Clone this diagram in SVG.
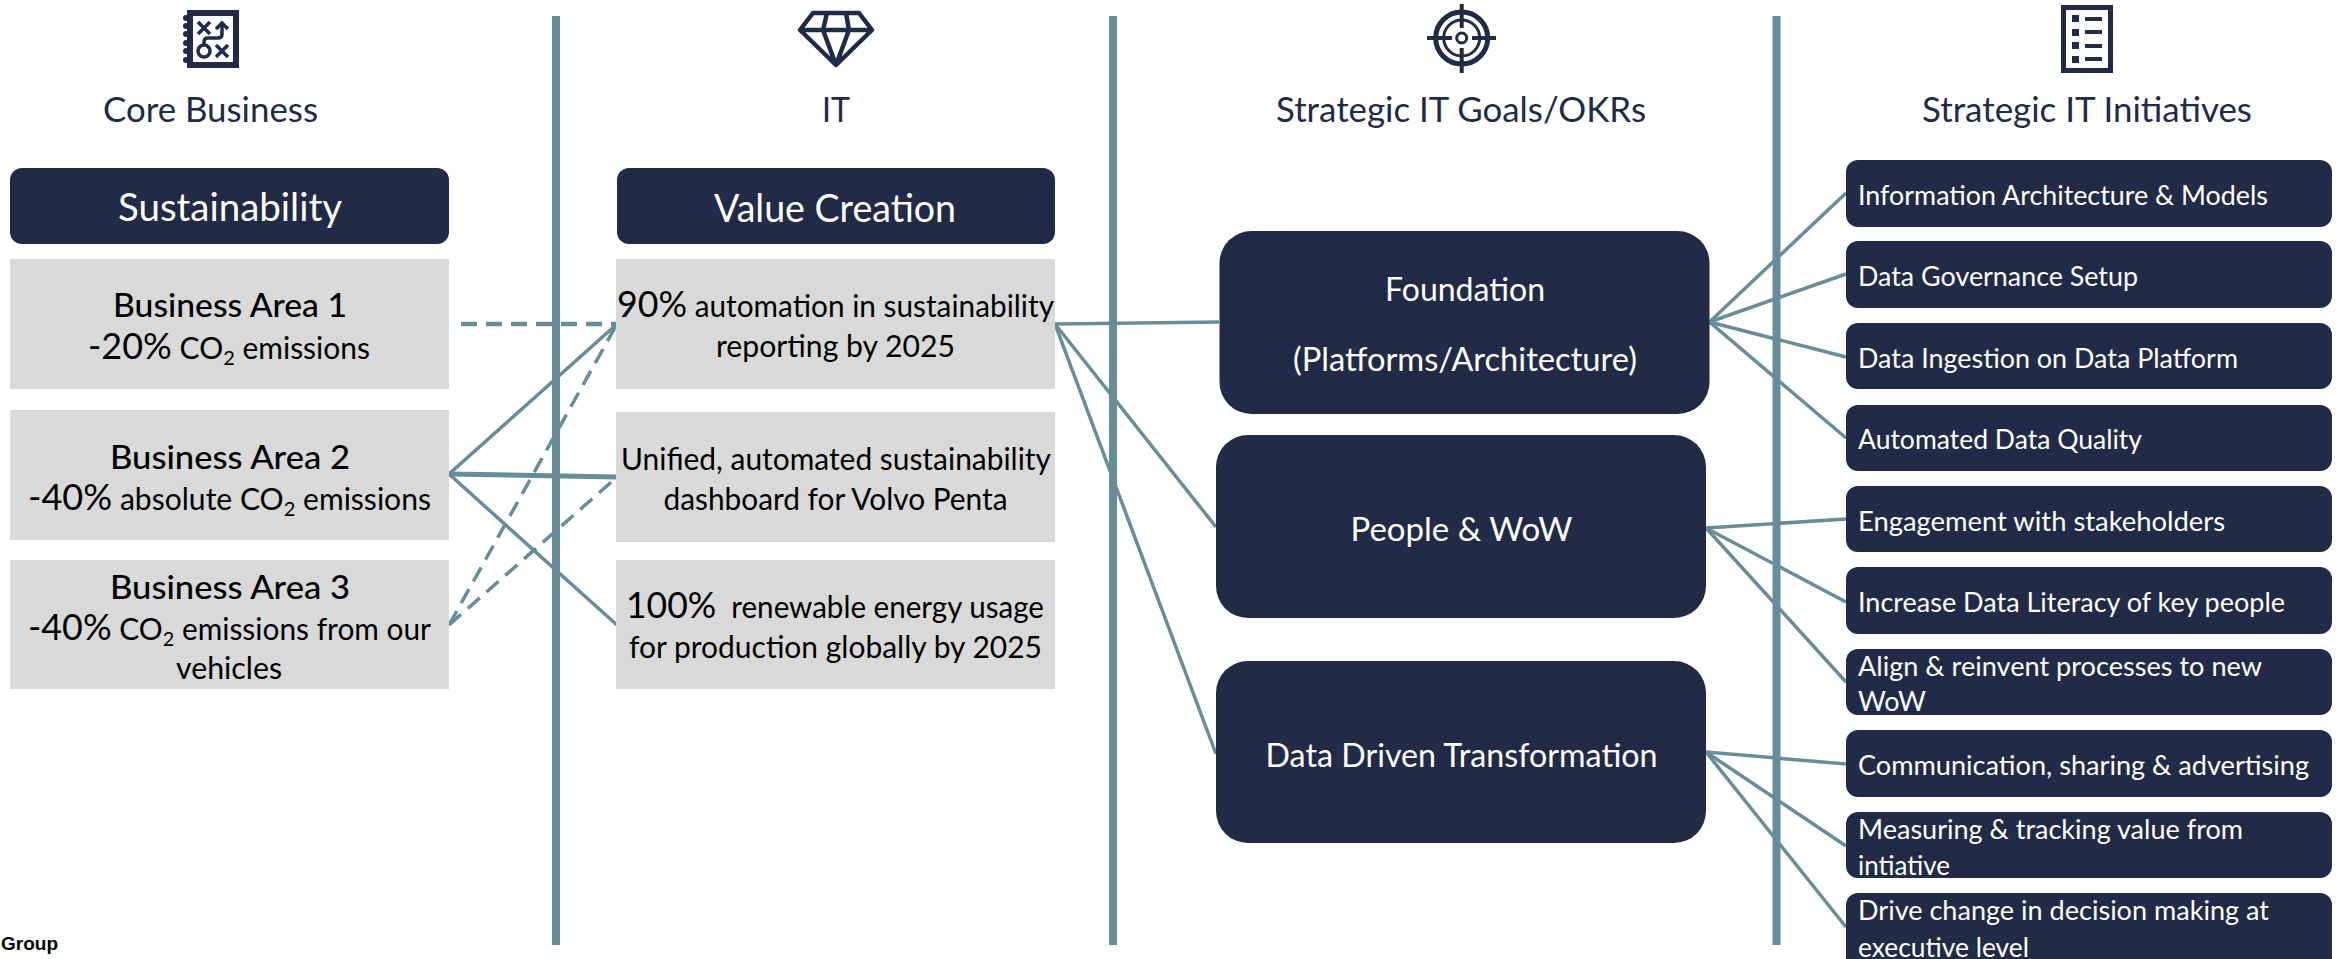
<svg xmlns="http://www.w3.org/2000/svg" width="2341" height="959" viewBox="0 0 2341 959">
<style>
text{font-family:"Lato","Open Sans",sans-serif;font-weight:400}
.h{font-size:34px;fill:#212b47;text-anchor:middle}
.t{font-size:38px;fill:#fff;text-anchor:middle}
.g{font-size:33px;fill:#000;text-anchor:middle;font-weight:500}
.b{font-size:30px;fill:#000;text-anchor:middle}
.c{font-size:32px;fill:#fff;text-anchor:middle}
.i{font-size:27px;fill:#fff}
.big{font-size:36px}
.sub{font-size:20px}
.d{fill:#212b47}
.e{fill:#d9d9d9}
.l{stroke:#678d99;fill:none;stroke-width:3.5}
.s{stroke:#678d99;fill:none;stroke-width:3.5;stroke-dasharray:16 9}
.v{stroke:#678d99;stroke-width:8}
.ic{fill:none;stroke:#212b47}
</style>
<g id="dividers"><line class="v" x1="556" y1="16" x2="556" y2="945"/><line class="v" x1="1113" y1="16" x2="1113" y2="945"/><line class="v" x1="1776.5" y1="16" x2="1776.5" y2="945"/></g>
<g id="connectors">
<path class="s" style="stroke-width:4.5" d="M461 324H617"/>
<path class="l" d="M449 474L617 324"/><path class="l" style="stroke-width:5" d="M449 474L617 477"/><path class="l" d="M449 474L617 625"/>
<path class="s" d="M449 625L617 324"/><path class="s" d="M449 625L617 477"/>
<path class="l" d="M1055 324L1219 322"/><path class="l" d="M1055 324L1216 527"/><path class="l" d="M1055 324L1216 754"/>
<path class="l" d="M1709.5 322L1846 193"/><path class="l" d="M1709.5 322L1846 274"/><path class="l" d="M1709.5 322L1846 357"/><path class="l" d="M1709.5 322L1846 438"/>
<path class="l" d="M1706 528L1846 519"/><path class="l" d="M1706 528L1846 602"/><path class="l" d="M1706 528L1846 682"/>
<path class="l" d="M1706 752L1846 764"/><path class="l" d="M1706 752L1846 846"/><path class="l" d="M1706 752L1846 927"/>
</g>
<g id="col-core">
<g class="ic" stroke-width="6"><rect x="190" y="13" width="46" height="52"/></g>
<g fill="#212b47"><circle cx="186" cy="18" r="3"/><circle cx="186" cy="26" r="3"/><circle cx="186" cy="34" r="3"/><circle cx="186" cy="43" r="3"/><circle cx="186" cy="51" r="3"/><circle cx="186" cy="60" r="3"/></g>
<path class="ic" stroke-width="3.5" d="M198 22L210 34M210 22L198 34M216 45L228 57M228 45L216 57M204 45V42Q204 38 208 38H218Q222 38 222 34V23M216 29L222 23L228 29"/>
<circle class="ic" stroke-width="3.5" cx="204" cy="51" r="6"/>
<text class="h" x="210.500" y="122" textLength="215" lengthAdjust="spacingAndGlyphs">Core Business</text>
</g>
<g id="col-it">
<path class="ic" stroke-width="4.500" stroke-linejoin="round" d="M813 13H859L872 30L836 65L800 30ZM800 30H872M827 13L823 30L836 65L849 30L846 13"/>
<text class="h" x="836" y="122" textLength="28" lengthAdjust="spacingAndGlyphs">IT</text>
</g>
<g id="col-goals">
<circle class="ic" stroke-width="5" cx="1461.700" cy="38" r="26"/><circle class="ic" stroke-width="3" cx="1461.700" cy="38" r="18"/><circle class="ic" stroke-width="3" cx="1461.700" cy="38" r="5"/>
<path class="ic" stroke-width="4" d="M1461.700 4V28M1461.700 48V73M1427 38H1452M1472 38H1496"/>
<text class="h" x="1461" y="122" textLength="370" lengthAdjust="spacingAndGlyphs">Strategic IT Goals/OKRs</text>
</g>
<g id="col-init">
<rect class="ic" stroke-width="5" x="2063.500" y="7.500" width="47" height="63"/>
<g class="d"><rect x="2072" y="15" width="7" height="7"/><rect x="2072" y="29" width="7" height="7"/><rect x="2072" y="42" width="7" height="7"/><rect x="2072" y="56" width="7" height="7"/><rect x="2085" y="17" width="17" height="4"/><rect x="2085" y="30" width="17" height="4"/><rect x="2085" y="44" width="17" height="4"/><rect x="2085" y="57" width="17" height="4"/></g>
<text class="h" x="2087" y="122" textLength="330" lengthAdjust="spacingAndGlyphs">Strategic IT Initiatives</text>
</g>
<g id="sustainability"><rect class="d" x="10" y="168" width="439" height="76" rx="12"/><text class="t" x="230" y="221" textLength="224" lengthAdjust="spacingAndGlyphs">Sustainability</text></g>
<g id="value-creation"><rect class="d" x="617" y="168" width="438" height="76" rx="12"/><text class="t" x="835" y="222" textLength="242" lengthAdjust="spacingAndGlyphs">Value Creation</text></g>
<g id="area1"><rect class="e" x="10" y="259" width="439" height="130"/><text class="g" x="230" y="317" textLength="234" lengthAdjust="spacingAndGlyphs">Business Area 1</text><text class="b" x="229" y="359" textLength="282" lengthAdjust="spacingAndGlyphs"><tspan class="big">-20%</tspan> CO<tspan class="sub" dy="6">2</tspan><tspan dy="-6"> emissions</tspan></text></g>
<g id="area2"><rect class="e" x="10" y="410" width="439" height="130"/><text class="g" x="230" y="469" textLength="240" lengthAdjust="spacingAndGlyphs">Business Area 2</text><text class="b" x="229.500" y="510" textLength="403" lengthAdjust="spacingAndGlyphs"><tspan class="big">-40%</tspan> absolute CO<tspan class="sub" dy="6">2</tspan><tspan dy="-6"> emissions</tspan></text></g>
<g id="area3"><rect class="e" x="10" y="560" width="439" height="129"/><text class="g" x="230" y="599" textLength="240" lengthAdjust="spacingAndGlyphs">Business Area 3</text><text class="b" x="229.500" y="640" textLength="403" lengthAdjust="spacingAndGlyphs"><tspan class="big">-40%</tspan> CO<tspan class="sub" dy="6">2</tspan><tspan dy="-6"> emissions from our</tspan></text><text class="b" x="229" y="679" textLength="106" lengthAdjust="spacingAndGlyphs">vehicles</text></g>
<g id="value1"><rect class="e" x="616" y="259" width="439" height="130"/><text class="b" x="835.500" y="317" textLength="437" lengthAdjust="spacingAndGlyphs"><tspan class="big">90%</tspan> automation in sustainability</text><text class="b" x="835.500" y="357" textLength="239" lengthAdjust="spacingAndGlyphs">reporting by 2025</text></g>
<g id="value2"><rect class="e" x="616" y="412" width="439" height="130"/><text class="b" x="836" y="470" textLength="430" lengthAdjust="spacingAndGlyphs">Unified, automated sustainability</text><text class="b" x="835.500" y="510" textLength="344" lengthAdjust="spacingAndGlyphs">dashboard for Volvo Penta</text></g>
<g id="value3"><rect class="e" x="616" y="560" width="439" height="129"/><text class="b" x="835" y="618" xml:space="preserve" textLength="418" lengthAdjust="spacingAndGlyphs"><tspan class="big">100%</tspan>  renewable energy usage</text><text class="b" x="835.500" y="658" textLength="413" lengthAdjust="spacingAndGlyphs">for production globally by 2025</text></g>
<g id="goal1"><rect class="d" x="1219.500" y="231" width="490" height="183" rx="32"/><text class="c" x="1465" y="301" textLength="160" lengthAdjust="spacingAndGlyphs">Foundation</text><text class="c" x="1465" y="371" textLength="344" lengthAdjust="spacingAndGlyphs">(Platforms/Architecture)</text></g>
<g id="goal2"><rect class="d" x="1216" y="435" width="490" height="183" rx="32"/><text class="c" x="1461.500" y="541" textLength="222" lengthAdjust="spacingAndGlyphs">People &amp; WoW</text></g>
<g id="goal3"><rect class="d" x="1216" y="661" width="490" height="182" rx="32"/><text class="c" x="1461.500" y="767" textLength="392" lengthAdjust="spacingAndGlyphs">Data Driven Transformation</text></g>
<g id="init1"><rect class="d" x="1846" y="160" width="486" height="67" rx="12"/><text class="i" x="1858" y="205" textLength="410" lengthAdjust="spacingAndGlyphs">Information Architecture &amp; Models</text></g>
<g id="init2"><rect class="d" x="1846" y="241" width="486" height="67" rx="12"/><text class="i" x="1858" y="286" textLength="280" lengthAdjust="spacingAndGlyphs">Data Governance Setup</text></g>
<g id="init3"><rect class="d" x="1846" y="323" width="486" height="66" rx="12"/><text class="i" x="1858" y="368" textLength="380" lengthAdjust="spacingAndGlyphs">Data Ingestion on Data Platform</text></g>
<g id="init4"><rect class="d" x="1846" y="405" width="486" height="66" rx="12"/><text class="i" x="1858" y="449" textLength="284" lengthAdjust="spacingAndGlyphs">Automated Data Quality</text></g>
<g id="init5"><rect class="d" x="1846" y="486" width="486" height="66" rx="12"/><text class="i" x="1858" y="531" textLength="367" lengthAdjust="spacingAndGlyphs">Engagement with stakeholders</text></g>
<g id="init6"><rect class="d" x="1846" y="567" width="486" height="67" rx="12"/><text class="i" x="1858" y="612" textLength="427" lengthAdjust="spacingAndGlyphs">Increase Data Literacy of key people</text></g>
<g id="init7"><rect class="d" x="1846" y="649" width="486" height="66" rx="12"/><text class="i" x="1858" y="676" textLength="404" lengthAdjust="spacingAndGlyphs">Align &amp; reinvent processes to new</text><text class="i" x="1858" y="711" textLength="68" lengthAdjust="spacingAndGlyphs">WoW</text></g>
<g id="init8"><rect class="d" x="1846" y="730" width="486" height="67" rx="12"/><text class="i" x="1858" y="775" textLength="451" lengthAdjust="spacingAndGlyphs">Communication, sharing &amp; advertising</text></g>
<g id="init9"><rect class="d" x="1846" y="812" width="486" height="66" rx="12"/><text class="i" x="1858" y="839" textLength="385" lengthAdjust="spacingAndGlyphs">Measuring &amp; tracking value from</text><text class="i" x="1858" y="875" textLength="92" lengthAdjust="spacingAndGlyphs">intiative</text></g>
<g id="init10"><rect class="d" x="1846" y="893" width="486" height="80" rx="12"/><text class="i" x="1858" y="920" textLength="411" lengthAdjust="spacingAndGlyphs">Drive change in decision making at</text><text class="i" x="1858" y="957" textLength="171" lengthAdjust="spacingAndGlyphs">executive level</text></g>
<text x="1" y="950" style="font-family:'Liberation Sans',sans-serif;font-weight:700;font-size:19px;fill:#000">Group</text>
</svg>
